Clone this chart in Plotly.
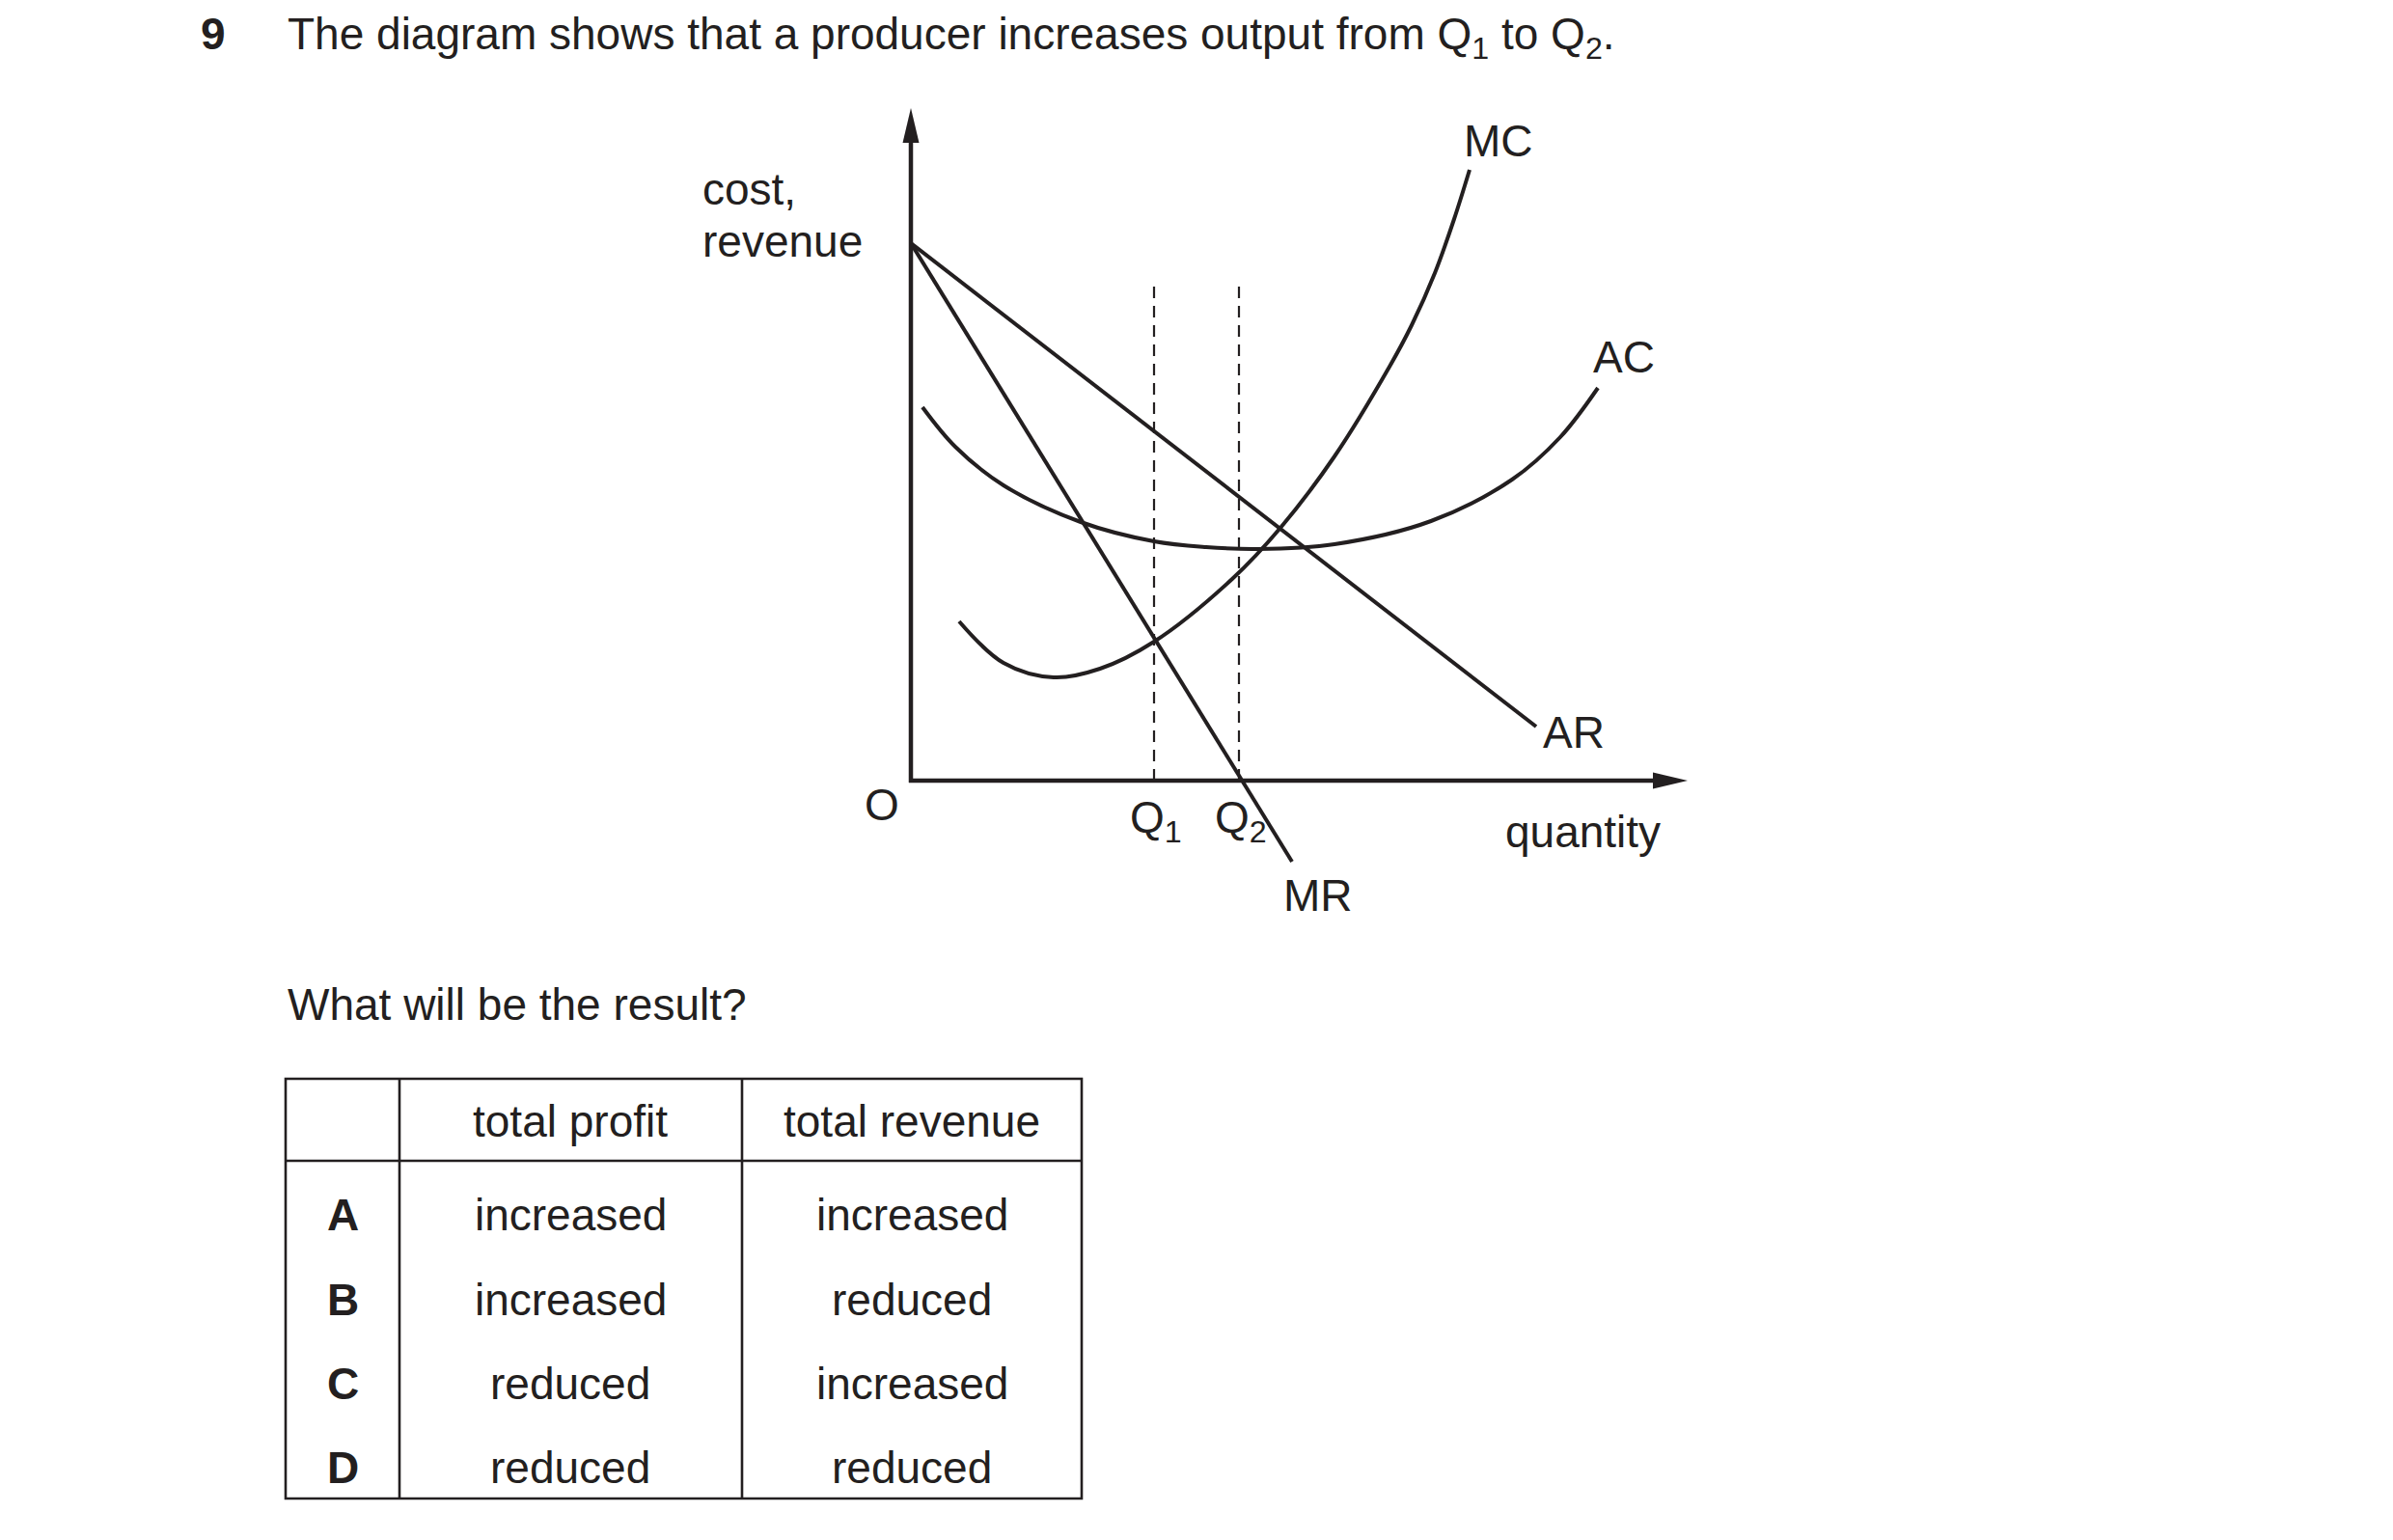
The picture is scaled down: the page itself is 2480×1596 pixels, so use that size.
import plotly.graph_objects as go

W, H = 2480, 1596
INK = "#231f20"
FONT = "Liberation Sans, Arial, sans-serif"
FS = 46

# ---------------- data (diagram units) ----------------
ar_x = [0, 648]
ar_y = [557, 56]
mr_x = [0, 395]
mr_y = [557, -84]
mc_x = [50, 96, 148, 196, 252, 333, 383, 439, 496, 519, 543, 563, 579]
mc_y = [165, 122, 107, 116, 144, 209, 262, 336, 429, 472, 526, 582, 633]
ac_x = [12, 46, 96, 176, 252, 306, 359, 439, 539, 623, 673, 712]
ac_y = [387, 346, 306, 268, 248, 242, 240, 245, 269, 312, 356, 407]
q_levels = [252, 340]
q_labels = ["Q<sub>1</sub>", "Q<sub>2</sub>"]
dash_top = 517
x_axis_end = 805
y_axis_end = 697

# table
options = ["A", "B", "C", "D"]
col_headers = ["total profit", "total revenue"]
profit = ["increased", "increased", "reduced", "reduced"]
revenue = ["increased", "reduced", "increased", "reduced"]

# ---------------- layout helpers ----------------
OFF = 8  # page body margin

def px(x):
    return (x - OFF) / W

def py(y):
    return 1 - (y - OFF) / H

# diagram axis mapping: 1 unit = 1 px ; origin at (944, 809)
OX, OY = 944, 809
XR = [-100, 900]
YR = [-150, 720]
xdom = [px(OX + XR[0]), px(OX + XR[1])]
ydom = [py(OY - YR[0]), py(OY - YR[1])]

fig = go.Figure()

LW = 4.0
fig.add_trace(go.Scatter(x=ar_x, y=ar_y, mode="lines", line=dict(color=INK, width=LW), hoverinfo="skip"))
fig.add_trace(go.Scatter(x=mr_x, y=mr_y, mode="lines", line=dict(color=INK, width=LW), hoverinfo="skip"))
fig.add_trace(go.Scatter(x=mc_x, y=mc_y, mode="lines",
                         line=dict(color=INK, width=LW, shape="spline", smoothing=1.0), hoverinfo="skip"))
fig.add_trace(go.Scatter(x=ac_x, y=ac_y, mode="lines",
                         line=dict(color=INK, width=LW, shape="spline", smoothing=1.0), hoverinfo="skip"))
for q in q_levels:
    fig.add_trace(go.Scatter(x=[q, q], y=[0, dash_top], mode="lines",
                             line=dict(color=INK, width=2.2, dash="12px,8px"), hoverinfo="skip"))

shapes = []
AL, AW = 36, 8.5
# axes
shapes.append(dict(type="line", xref="x", yref="y", x0=-2, y0=0, x1=x_axis_end - AL + 2, y1=0,
                   line=dict(color=INK, width=4.5)))
shapes.append(dict(type="line", xref="x", yref="y", x0=0, y0=-2, x1=0, y1=y_axis_end - AL + 2,
                   line=dict(color=INK, width=4.5)))
shapes.append(dict(type="path", xref="x", yref="y",
                   path=f"M {x_axis_end} 0 L {x_axis_end - AL} {AW} L {x_axis_end - AL} {-AW} Z",
                   fillcolor=INK, line=dict(width=0)))
shapes.append(dict(type="path", xref="x", yref="y",
                   path=f"M 0 {y_axis_end} L {-AW} {y_axis_end - AL} L {AW} {y_axis_end - AL} Z",
                   fillcolor=INK, line=dict(width=0)))

# table lines
T_L, T_R, T_T, T_B = 296, 1121, 1118, 1553
C1, C2 = 414, 769
HB = 1203
tl = dict(color=INK, width=2.6)
shapes.append(dict(type="rect", xref="paper", yref="paper", x0=px(T_L), x1=px(T_R), y0=py(T_B), y1=py(T_T), line=tl))
for c in (C1, C2):
    shapes.append(dict(type="line", xref="paper", yref="paper", x0=px(c), x1=px(c), y0=py(T_B), y1=py(T_T), line=tl))
shapes.append(dict(type="line", xref="paper", yref="paper", x0=px(T_L), x1=px(T_R), y0=py(HB), y1=py(HB), line=tl))

ann = []

def text(t, x, y, xanchor="center", bold=False, size=FS, yanchor="middle"):
    ann.append(dict(text=f"<b>{t}</b>" if bold else t, x=px(x), y=py(y), xref="paper", yref="paper",
                    xanchor=xanchor, yanchor=yanchor, showarrow=False, borderpad=0,
                    font=dict(family=FONT, size=size, color=INK)))

text("9", 207, OFF, xanchor="left", bold=True, yanchor="top")
text("The diagram shows that a producer increases output from Q<sub>1</sub> to Q<sub>2</sub>.",
     297, OFF, xanchor="left", yanchor="top")
text("cost,", 727, 196, xanchor="left")
text("revenue", 727, 250, xanchor="left")
text("MC", 1553, 146)
text("AC", 1683, 370)
text("AR", 1631, 759)
text("O", 914, 834)
for q, lab in zip(q_levels, q_labels):
    text(lab, OX + q - 26, 850, xanchor="left")
text("quantity", 1640, 862)
text("MR", 1366, 928)
text("What will be the result?", 297, 1041, xanchor="left")

col_centers = [591, 945]
text(col_headers[0], col_centers[0], 1162)
text(col_headers[1], col_centers[1], 1162)
row_y = [1259, 1347, 1434, 1521]
for o, p, r, yy in zip(options, profit, revenue, row_y):
    text(o, 355, yy, bold=True)
    text(p, col_centers[0], yy)
    text(r, col_centers[1], yy)

fig.update_layout(
    width=W, height=H,
    margin=dict(l=0, r=0, t=0, b=0),
    paper_bgcolor="white", plot_bgcolor="white",
    showlegend=False,
    shapes=shapes, annotations=ann,
    xaxis=dict(range=XR, domain=xdom, visible=False, fixedrange=True),
    yaxis=dict(range=YR, domain=ydom, visible=False, fixedrange=True),
)

fig.write_html("out.html")
